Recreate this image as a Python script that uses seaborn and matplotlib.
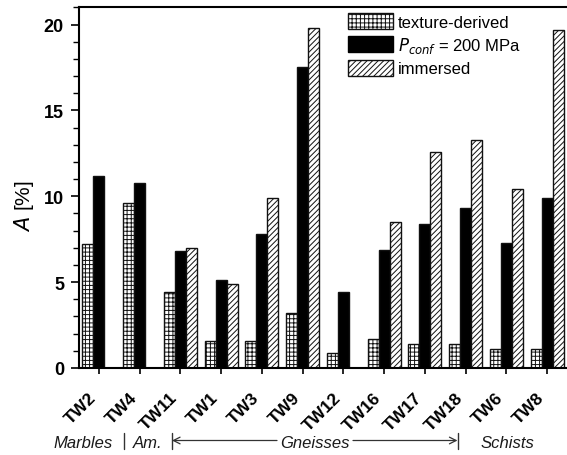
import numpy as np
import pandas as pd
import matplotlib
matplotlib.use("Agg")
import matplotlib.pyplot as plt
from matplotlib.patches import Patch
from matplotlib.lines import Line2D
from matplotlib.ticker import MultipleLocator
import seaborn as sns

# Anisotropy per sample and method
samples = ["TW2", "TW4", "TW11", "TW1", "TW3", "TW9", "TW12",
           "TW16", "TW17", "TW18", "TW6", "TW8"]
texture_derived = [7.2, 9.6, 4.4, 1.6, 1.6, 3.2, 0.9, 1.7, 1.4, 1.4, 1.1, 1.1]
p_conf_200 = [11.2, 10.8, 6.8, 5.1, 7.8, 17.5, 4.4, 6.9, 8.4, 9.3, 7.3, 9.9]
immersed = [np.nan, np.nan, 7.0, 4.9, 9.9, 19.8, np.nan,
            8.5, 12.6, 13.3, 10.4, 19.7]
methods = ["texture-derived", "pconf", "immersed"]
legend_labels = ["texture-derived", r"$P_{conf}$ = 200 MPa", "immersed"]

df = pd.DataFrame({
    "sample": samples * 3,
    "A": texture_derived + p_conf_200 + immersed,
    "method": [m for m in methods for _ in samples],
})

sns.set_theme(style="ticks")
plt.rcParams["font.family"] = ["Liberation Sans", "DejaVu Sans"]
plt.rcParams["hatch.linewidth"] = 0.7
plt.rcParams["hatch.color"] = "#222222"
for key in ["text.color", "axes.labelcolor", "xtick.color", "ytick.color",
            "axes.edgecolor"]:
    plt.rcParams[key] = "black"

W, H = 567, 456
fig = plt.figure(figsize=(W / 100, H / 100), dpi=100)
ax = fig.add_axes([79 / W, (H - 369) / H, (W - 79) / W, 361.5 / H])

sns.barplot(data=df, x="sample", y="A", hue="method", order=samples,
            hue_order=methods, palette=["white", "black", "white"],
            saturation=1, width=0.81, edgecolor="black", linewidth=1.0,
            legend=False, ax=ax)

hatches = ["++++", None, "//////"]
for cont, h in zip(ax.containers, hatches):
    for p in cont.patches:
        if h:
            p.set_hatch(h)
        p.set_edgecolor("#111111")

ax.set_xlim(-0.49, 11.49)
ax.set_ylim(0, 21.05)
ax.yaxis.set_major_locator(MultipleLocator(5))
ax.yaxis.set_minor_locator(MultipleLocator(1))
ax.set_xlabel("")
ax.set_ylabel("$A$ [%]", fontsize=15)
ax.yaxis.set_label_coords(-0.088, 0.45)

for s in ["left", "top", "bottom"]:
    ax.spines[s].set_linewidth(1.5)
    ax.spines[s].set_color("black")
ax.spines["right"].set_visible(False)

ax.tick_params(axis="y", which="major", length=5.8, width=1.2, pad=5,
               labelsize=13, direction="out")
ax.tick_params(axis="y", which="minor", length=4, width=1.0, direction="out")
ax.tick_params(axis="x", which="major", length=4.3, width=1.2, pad=11,
               labelsize=12.5, direction="out")
for lab in ax.get_yticklabels():
    lab.set_fontweight("bold")
ax.set_xticks(range(len(samples)))
ax.set_xticklabels(samples, rotation=45, ha="right", fontweight="bold")

handles = [
    Patch(facecolor="white", edgecolor="#111111", hatch="++++", label=legend_labels[0]),
    Patch(facecolor="black", edgecolor="black", label=legend_labels[1]),
    Patch(facecolor="white", edgecolor="#111111", hatch="//////", label=legend_labels[2]),
]
ax.legend(handles=handles, loc="upper left", frameon=False, fontsize=12,
          bbox_to_anchor=(348 / W, 1 - 14 / H), bbox_transform=fig.transFigure,
          borderpad=0, borderaxespad=0, handlelength=2.7, handleheight=1.1,
          labelspacing=0.3, handletextpad=0.3)

# Rock-type groups beneath the sample names
ybase = 1 - 448 / H
for txt, xc in [("Marbles", 83), ("Am.", 148), ("Gneisses", 315), ("Schists", 507)]:
    fig.text(xc / W, ybase, txt, ha="center", va="baseline",
             fontsize=12, style="italic", color="#1a1a1a")
for xv in [123.5, 172, 457.5]:
    fig.add_artist(Line2D([xv / W, xv / W], [1 - 450 / H, 1 - 434 / H],
                          transform=fig.transFigure, color="#333333", lw=1.0))
yarr = H - 441.5
ax.annotate("", xy=(172, yarr), xytext=(277, yarr), xycoords="figure pixels",
            textcoords="figure pixels",
            arrowprops=dict(arrowstyle="->", lw=0.9, color="#333333",
                            shrinkA=0, shrinkB=0, mutation_scale=12))
ax.annotate("", xy=(457.5, yarr), xytext=(353, yarr), xycoords="figure pixels",
            textcoords="figure pixels",
            arrowprops=dict(arrowstyle="->", lw=0.9, color="#333333",
                            shrinkA=0, shrinkB=0, mutation_scale=12))

fig.savefig("out.png", dpi=100)
